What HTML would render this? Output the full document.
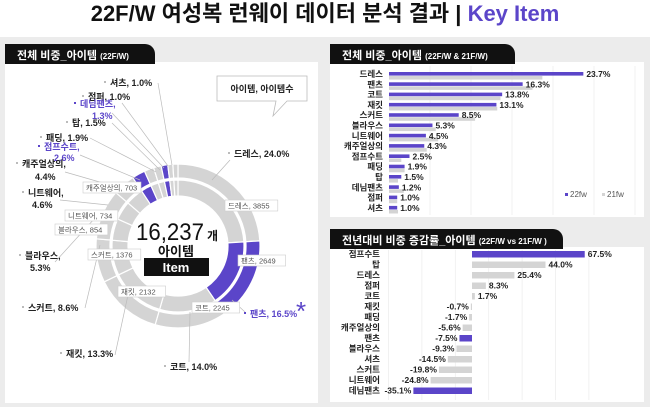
<!DOCTYPE html>
<html><head><meta charset="utf-8">
<style>
body{margin:0;width:650px;height:407px;overflow:hidden;background:#fff;font-family:"Liberation Sans","Noto Sans CJK KR",sans-serif;}
#bg{position:absolute;left:0;top:37px;width:650px;height:370px;background:#ececec;}
.tab{position:absolute;background:#111;color:#fff;font-weight:bold;font-size:11px;border-radius:0 10px 0 0;padding:3px 0 0 12px;box-sizing:border-box;}
.tab small{font-size:8px;}
.panel{position:absolute;background:#fff;}
svg text{font-family:"Liberation Sans","Noto Sans CJK KR",sans-serif;}
</style></head><body>
<div id="bg"></div>
<div style="position:absolute;left:0;width:650px;top:0;text-align:center;font-size:22px;font-weight:bold;line-height:28px;color:#111;">22F/W 여성복 런웨이 데이터 분석 결과 | <span style="color:#5b45c9">Key Item</span></div>
<div class="panel" style="left:5px;top:62px;width:313px;height:341px"></div>
<div class="tab" style="left:5px;top:44px;width:150px;height:20px">전체 비중_아이템 <small>(22F/W)</small></div>
<div class="panel" style="left:330px;top:62px;width:314px;height:155px"></div>
<div class="tab" style="left:330px;top:44px;width:185px;height:20px">전체 비중_아이템 <small>(22F/W &amp; 21F/W)</small></div>
<div class="panel" style="left:330px;top:247px;width:314px;height:155px"></div>
<div class="tab" style="left:330px;top:229px;width:233px;height:20px">전년대비 비중 증감률_아이템 <small>(22F/W vs 21F/W )</small></div>
<svg id="s" width="650" height="407" style="position:absolute;left:0;top:0"></svg>
<script>
const donutItems=["드레스","팬츠","코트","재킷","스커트","블라우스","니트웨어","캐주얼상의","점프수트","패딩","탑","데님팬츠","점퍼","셔츠"];
const donutShare=[24.0,16.5,14.0,13.3,8.6,5.3,4.6,4.4,2.6,1.9,1.5,1.3,1.0,1.0];
const donutHighlight=["팬츠","점프수트","데님팬츠"];
const innerLabels=["드레스, 3855","팬츠, 2649","코트, 2245","재킷, 2132","스커트, 1376","블라우스, 854","니트웨어, 734","캐주얼상의, 703"];
const shareItems=["드레스","팬츠","코트","재킷","스커트","블라우스","니트웨어","캐주얼상의","점프수트","패딩","탑","데님팬츠","점퍼","셔츠"];
const share22=[23.7,16.3,13.8,13.1,8.5,5.3,4.5,4.3,2.5,1.9,1.5,1.2,1.0,1.0];
const share21=[18.7,17.5,13.6,13.2,10.5,5.7,6.0,4.6,1.5,1.9,1.1,1.8,1.0,1.1];
const chgItems=["점프수트","탑","드레스","점퍼","코트","재킷","패딩","캐주얼상의","팬츠","블라우스","셔츠","스커트","니트웨어","데님팬츠"];
const chgValues=[67.5,44.0,25.4,8.3,1.7,-0.7,-1.7,-5.6,-7.5,-9.3,-14.5,-19.8,-24.8,-35.1];
const chgHighlight=["점프수트","팬츠","데님팬츠"];

const S=document.getElementById('s');const NS='http://www.w3.org/2000/svg';
function mk(t,a,txt){const e=document.createElementNS(NS,t);for(const k in a)e.setAttribute(k,a[k]);if(txt!==undefined)e.textContent=txt;S.appendChild(e);return e;}
const P='#5b45c9',G='#d4d4d4';
const cx=178,cy=246;
function arc(r1,r2,a0,a1){const f=a=>[Math.sin(a),-Math.cos(a)];const [s0,c0]=f(a0),[s1,c1]=f(a1);const L=(a1-a0)>Math.PI?1:0;
return `M${cx+r2*s0},${cy+r2*c0}A${r2},${r2} 0 ${L} 1 ${cx+r2*s1},${cy+r2*c1}L${cx+r1*s1},${cy+r1*c1}A${r1},${r1} 0 ${L} 0 ${cx+r1*s0},${cy+r1*c0}Z`;}
let tot=donutShare.reduce((a,b)=>a+b,0),acc=0;
donutShare.forEach((v,i)=>{const a0=acc/tot*2*Math.PI,a1=(acc+v)/tot*2*Math.PI;acc+=v;
const col=donutHighlight.includes(donutItems[i])?P:G;
let e=mk('path',{d:arc(68,82,a0,a1),fill:col,stroke:'#fff','stroke-width':1.2});


e=mk('path',{d:arc(50,66,a0,a1),fill:col,stroke:'#fff','stroke-width':1.2});

});
// outer labels: text, x, y, highlight, lineStartX, lineStartY, lineEndX, lineEndY
const lab=[["셔츠, 1.0%",110,86,0,158,83,172,165],["점퍼, 1.0%",88,100,0,122,103,168,166],["데님팬츠,",80,107,1,0,0,0,0],["1.3%",92,119,1,112,113,164,168],["탑, 1.5%",72,126,0,112,123,160,170],["패딩, 1.9%",46,141,0,90,138,156,172],["점프수트,",44,150,1,0,0,0,0],["2.6%",54,161,1,80,155,140,180],["캐주얼상의,",22,167,0,65,172,110,185],["4.4%",35,180,0,0,0,0,0],["니트웨어,",28,196,0,60,200,108,205],["4.6%",32,208,0,0,0,0,0],["블라우스,",25,259,0,55,262,95,218],["5.3%",30,271,0,0,0,0,0],["스커트, 8.6%",28,311,0,85,308,100,245],["재킷, 13.3%",66,357,0,115,355,128,295],["코트, 14.0%",170,370,0,189,362,190,312],["드레스, 24.0%",234,157,0,230,160,212,180],["팬츠, 16.5%",250,317,1,245,312,232,300]];
lab.forEach(l=>{const t=mk('text',{x:l[1],y:l[2],'font-size':9,'font-weight':'bold',fill:l[3]?P:'#222'},l[0]);


if(/^[^0-9]/.test(l[0]))mk('rect',{x:l[1]-6,y:l[2]-5,width:2,height:2,fill:l[3]?P:'#bbb'});
if(l[4])mk('line',{x1:l[4],y1:l[5],x2:l[6],y2:l[7],stroke:'#bbb','stroke-width':0.7});});
mk('text',{x:296,y:320,'font-size':26,fill:P},'*');
const ib=[[225,200],[238,255],[192,302],[118,286],[88,249],[55,224],[65,210],[83,182]];
innerLabels.forEach((s,i)=>{mk('rect',{x:ib[i][0],y:ib[i][1],width:s.length*5.2+6,height:11,fill:'#fff',stroke:'#ccc','stroke-width':0.6});
const t=mk('text',{x:ib[i][0]+3,y:ib[i][1]+8.5,'font-size':7.5,fill:'#555'},s);

});
mk('path',{d:'M217,76H307V101H287L273,116L276,101H217Z',fill:'#fff',stroke:'#bbb','stroke-width':0.8});
mk('text',{x:262,y:92,'font-size':9,'font-weight':'bold','text-anchor':'middle',fill:'#222'},'아이템, 아이템수');
mk('text',{x:136,y:240,'font-size':24,fill:'#111',textLength:68,lengthAdjust:'spacingAndGlyphs'},'16,237');
mk('text',{x:207,y:240,'font-size':12,'font-weight':'bold',fill:'#111'},'개');
mk('text',{x:176,y:256,'font-size':13,'font-weight':'bold','text-anchor':'middle',fill:'#111'},'아이템');
mk('rect',{x:144,y:258,width:65,height:18,fill:'#111'});
mk('text',{x:176,y:272,'font-size':13,'font-weight':'bold','text-anchor':'middle',fill:'#fff'},'Item');
// top right bar chart
const x0=389,k=8.2,y0=72,dy=10.3;
for(let g=1;g<=6;g++)mk('line',{x1:x0+g*5*k,y1:66,x2:x0+g*5*k,y2:215,stroke:'#eee','stroke-width':0.8});
shareItems.forEach((n,i)=>{const y=y0+i*dy;
mk('text',{x:383,y:y+5,'font-size':8.5,'font-weight':'bold','text-anchor':'end',fill:'#222'},n);
let b=mk('rect',{x:x0,y:y,width:share22[i]*k,height:3.6,fill:P});


b=mk('rect',{x:x0,y:y+4,width:share21[i]*k,height:3.6,fill:G});


mk('text',{x:x0+share22[i]*k+3,y:y+5,'font-size':8.5,'font-weight':'bold',fill:'#222'},share22[i].toFixed(1)+'%');});
mk('rect',{x:565,y:193,width:3,height:3,fill:P});mk('text',{x:570,y:197,'font-size':8,fill:'#555'},'22fw');
mk('rect',{x:602,y:193,width:3,height:3,fill:G});mk('text',{x:607,y:197,'font-size':8,fill:'#555'},'21fw');
// bottom change chart
const z=472,kk=1.67,yb=251,db=10.5;
for(let g=-50;g<=70;g+=20)mk('line',{x1:z+g*kk,y1:250,x2:z+g*kk,y2:400,stroke:'#eee','stroke-width':0.8});
chgItems.forEach((n,i)=>{const y=yb+i*db,v=chgValues[i];
mk('text',{x:380,y:y+6,'font-size':8.5,'font-weight':'bold','text-anchor':'end',fill:'#222'},n);
const col=chgHighlight.includes(n)?P:G;
const b=mk('rect',{x:v>=0?z:z+v*kk,y:y,width:Math.abs(v)*kk,height:6.5,fill:col});


mk('text',{x:v>=0?z+v*kk+3:z+v*kk-2,y:y+6,'font-size':8.5,'font-weight':'bold','text-anchor':v>=0?'start':'end',fill:'#222'},v.toFixed(1)+'%');});
</script>
</body></html>
